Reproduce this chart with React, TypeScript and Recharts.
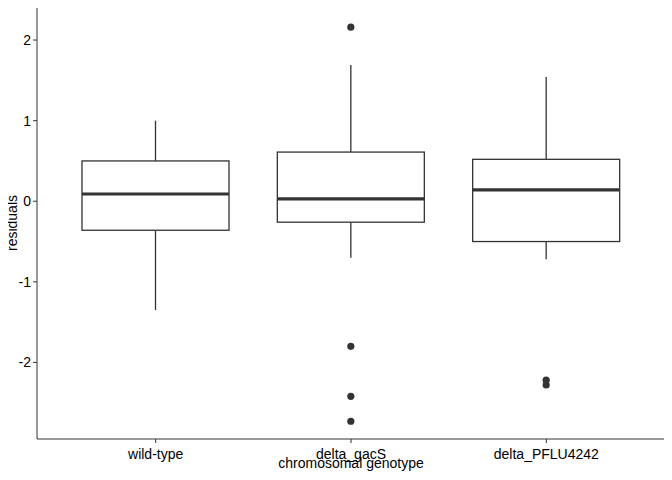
import React from 'react';
import { ComposedChart, Bar, XAxis, YAxis } from 'recharts';

const categories = ['wild-type', 'delta_gacS', 'delta_PFLU4242'];
const whiskerLow = [-1.35, -0.7, -0.72];
const q1 = [-0.36, -0.26, -0.5];
const median = [0.09, 0.03, 0.14];
const q3 = [0.5, 0.61, 0.52];
const whiskerHigh = [1.0, 1.69, 1.54];
const outliers = [[], [2.16, -1.8, -2.42, -2.73], [-2.22, -2.28]];
const yTicks = [-2, -1, 0, 1, 2];

const data = categories.map((c, i) => ({
  name: c,
  box: [q1[i], q3[i]],
  lo: whiskerLow[i], med: median[i], hi: whiskerHigh[i], q1: q1[i], q3: q3[i],
  out: outliers[i],
}));

const BoxShape = (props: any) => {
  const { x, y, width, height, payload } = props;
  const k = height / (payload.q3 - payload.q1);
  const py = (v: number) => y + (payload.q3 - v) * k;
  const cx = x + width / 2;
  const c = '#333333';
  return (
    <g>
      <line x1={cx} x2={cx} y1={py(payload.hi)} y2={py(payload.q3)} stroke={c} strokeWidth={1.3} />
      <line x1={cx} x2={cx} y1={py(payload.q1)} y2={py(payload.lo)} stroke={c} strokeWidth={1.3} />
      <rect x={x} y={y} width={width} height={height} fill="#fff" stroke={c} strokeWidth={1.3} />
      <line x1={x} x2={x + width} y1={py(payload.med)} y2={py(payload.med)} stroke={c} strokeWidth={3.2} />
      {payload.out.map((v: number, j: number) => (
        <circle key={j} cx={cx} cy={py(v)} r={3.6} fill={c} />
      ))}
    </g>
  );
};

const font = { fontFamily: 'Liberation Sans, Arial, sans-serif', fontSize: 14, fill: '#000' };

export default function App() {
  return (
    <div style={{ margin: -8, width: 672, height: 480, background: '#fff' }}>
      <ComposedChart width={672} height={480} data={data} margin={{ top: 6, right: 6, left: 0, bottom: 0 }}>
        <XAxis dataKey="name" xAxisId="b" type="category" padding={{ left: 21, right: 21 }} height={41}
          tick={{ ...font, dy: 4 }} tickLine={{ stroke: '#333' }} tickSize={4} axisLine={{ stroke: '#333' }}
          label={{ value: 'chromosomal genotype', position: 'insideBottom', offset: 12, style: font }} />
        <XAxis dataKey="name" xAxisId="t" orientation="top" height={1} tick={false} tickLine={false} axisLine={{ stroke: '#333' }} />
        <YAxis yAxisId="l" type="number" domain={[-2.95, 2.41]} ticks={yTicks} width={37}
          tick={font} tickLine={{ stroke: '#333' }} tickSize={4} axisLine={{ stroke: '#333' }}
          label={{ value: 'residuals', angle: -90, position: 'insideLeft', offset: 12, style: { ...font, textAnchor: 'middle' } }} />
        <YAxis yAxisId="r" orientation="right" width={1} domain={[-2.95, 2.41]} tick={false} tickLine={false} axisLine={{ stroke: '#333' }} />
        <Bar dataKey="box" xAxisId="b" yAxisId="l" barSize={147} shape={<BoxShape />} isAnimationActive={false} />
      </ComposedChart>
    </div>
  );
}
